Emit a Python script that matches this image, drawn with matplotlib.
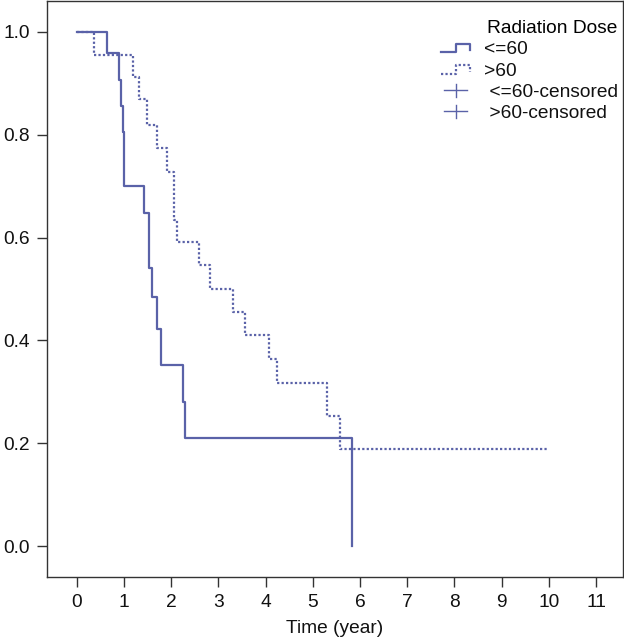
import numpy as np
import matplotlib
matplotlib.use("Agg")
import matplotlib.pyplot as plt
from matplotlib.lines import Line2D
from matplotlib.legend_handler import HandlerBase

plt.rcParams["font.family"] = ["Liberation Sans", "DejaVu Sans"]

# -------------------- data --------------------
LOW_TIME = [0, 0.64, 0.90, 0.93, 0.97, 1.01, 1.43, 1.53, 1.59, 1.69, 1.79, 2.26, 2.29, 5.84]
LOW_SURV = [1.0, 0.958, 0.907, 0.855, 0.805, 0.701, 0.647, 0.540, 0.485, 0.422, 0.352, 0.281, 0.211, 0.0]

HIGH_TIME = [0, 0.37, 1.19, 1.31, 1.48, 1.70, 1.92, 2.06, 2.12, 2.58, 2.82, 3.32, 3.57,
             4.07, 4.25, 5.30, 5.58, 9.99]
HIGH_SURV = [1.0, 0.955, 0.913, 0.870, 0.819, 0.775, 0.728, 0.634, 0.591, 0.547, 0.500, 0.456,
             0.411, 0.364, 0.317, 0.254, 0.188, 0.188]

X_TICKS = list(range(0, 12))
Y_TICKS = [0.0, 0.2, 0.4, 0.6, 0.8, 1.0]
LEGEND_TITLE = "Radiation Dose"
LABELS = ["<=60", ">60", " <=60-censored", " >60-censored"]

COLOR = "#5a62a8"
AXIS_COLOR = "#333333"
FS = 13.8


class StepHandler(HandlerBase):
    # little step glyph like the R legend
    def create_artists(self, legend, orig_handle, xdescent, ydescent,
                       width, height, fontsize, trans):
        xs = np.array([0.0, 0.5, 0.5, 1.0, 1.0]) * width - xdescent
        ys = np.array([0.15, 0.15, 0.8, 0.8, 0.3]) * height - ydescent
        line = Line2D(xs, ys)
        line.update_from(orig_handle)
        line.set_transform(trans)
        return [line]


class CensorHandler(HandlerBase):
    def create_artists(self, legend, orig_handle, xdescent, ydescent,
                       width, height, fontsize, trans):
        h = Line2D([-xdescent + 0.1 * width, -xdescent + 0.9 * width],
                   [-ydescent + 0.5 * height] * 2,
                   color=orig_handle.get_color(), linewidth=1.0, transform=trans)
        v = Line2D([-xdescent + 0.5 * width] * 2,
                   [-ydescent, -ydescent + height],
                   color=orig_handle.get_color(), linewidth=1.0, transform=trans)
        return [h, v]


def main():
    fig = plt.figure(figsize=(6.24, 6.41), dpi=100)
    ax = fig.add_axes([47 / 624, 64 / 641, 576 / 624, 576 / 641])

    l1, = ax.step(LOW_TIME, LOW_SURV, where="post", color=COLOR, lw=1.6)
    l2, = ax.step(HIGH_TIME, HIGH_SURV, where="post", color=COLOR, lw=1.6,
                  linestyle=(0, (1, 1)))

    ax.set_xlim(-0.63, 11.57)
    ax.set_ylim(-0.06, 1.06)
    ax.set_xticks(X_TICKS)
    ax.set_yticks(Y_TICKS)
    ax.set_yticklabels([f"{v:.1f}" for v in Y_TICKS])
    ax.tick_params(direction="out", length=7.5, width=1.0, colors=AXIS_COLOR,
                   labelcolor="#111111", labelsize=FS, pad=5)
    for s in ax.spines.values():
        s.set_color(AXIS_COLOR)
        s.set_linewidth(1.0)
    ax.set_xlabel("Time (year)", fontsize=FS, color="#111111", labelpad=6)

    c1 = Line2D([], [], color=COLOR)
    c2 = Line2D([], [], color=COLOR)
    leg = ax.legend([l1, l2, c1, c2], LABELS, title=LEGEND_TITLE,
                    handler_map={l1: StepHandler(), l2: StepHandler(),
                                 c1: CensorHandler(), c2: CensorHandler()},
                    loc="upper right", bbox_to_anchor=(1.004, 0.98),
                    frameon=False, fontsize=FS, title_fontsize=FS,
                    handlelength=1.5, handletextpad=0.7, labelspacing=0.2,
                    borderaxespad=0, alignment="right")
    for t in leg.get_texts():
        t.set_color("#111111")

    fig.savefig("out.png", dpi=100)
    plt.close(fig)


if __name__ == "__main__":
    main()
